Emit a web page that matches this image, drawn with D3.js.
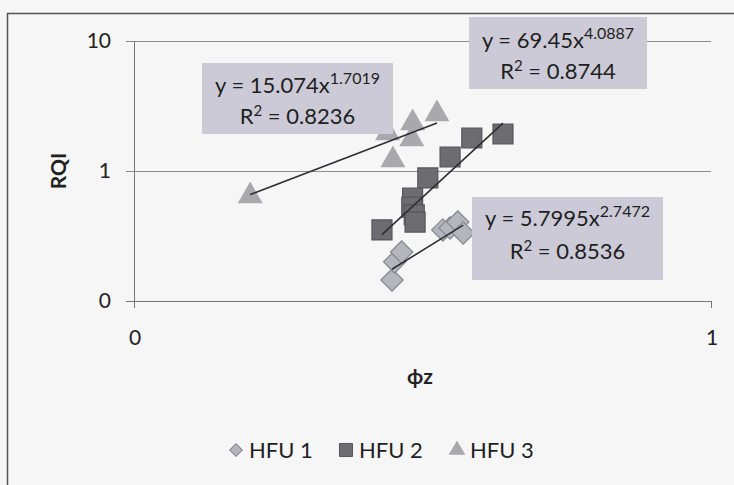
<!DOCTYPE html>
<html>
<head>
<meta charset="utf-8">
<script src="https://cdn.jsdelivr.net/npm/d3@7"></script>
<style>
  body { margin: 0; background: #f6f6f7; }
  svg { display: block; font-family: Lato, "Open Sans", sans-serif; }
</style>
</head>
<body>
<div id="chart"></div>
<script>
// series names
var seriesNames = ["HFU 1", "HFU 2", "HFU 3"];

// phi z (x) and RQI (y) values
var hfu1X = [0.280, 0.283, 0.291, 0.343, 0.353, 0.364, 0.372];
var hfu1Y = [0.145, 0.200, 0.238, 0.352, 0.364, 0.405, 0.334];

var hfu2X = [0.269, 0.304, 0.303, 0.306, 0.307, 0.323, 0.353, 0.385, 0.436];
var hfu2Y = [0.352, 0.620, 0.528, 0.459, 0.405, 0.884, 1.281, 1.794, 1.926];

var hfu3X = [0.159, 0.275, 0.281, 0.303, 0.304, 0.335];
var hfu3Y = [0.642, 1.960, 1.215, 1.762, 2.340, 2.745];

// power trendlines y = a * x^b
var trendA = [5.7995, 69.45, 15.074];
var trendB = [2.7472, 4.0887, 1.7019];
var trendR2 = ["0.8536", "0.8744", "0.8236"];

// axis ticks
var xTicks = [0.1, 1];
var xTickLabels = ["0", "1"];
var yTicks = [0.1, 1, 10];
var yTickLabels = ["0", "1", "10"];

var width = 734, height = 485;

var svg = d3.select("#chart").append("svg")
    .attr("width", width)
    .attr("height", height);

var x = d3.scaleLog().domain([0.1, 1]).range([134, 711]);
var y = d3.scaleLog().domain([0.1, 10]).range([301, 41]);

// page frame (left and top border of the figure)
svg.append("line").attr("x1", 7.5).attr("x2", 7.5).attr("y1", 13).attr("y2", height)
    .attr("stroke", "#555").attr("stroke-width", 1.5);
svg.append("line").attr("x1", 7).attr("x2", width).attr("y1", 13.5).attr("y2", 13.5)
    .attr("stroke", "#555").attr("stroke-width", 1.5);

// gridlines at 1 and 10
svg.selectAll(".grid")
    .data([1, 10])
    .enter().append("line")
    .attr("x1", 126).attr("x2", 711)
    .attr("y1", function (d) { return Math.round(y(d)) + 0.5; })
    .attr("y2", function (d) { return Math.round(y(d)) + 0.5; })
    .attr("stroke", "#8c8c8c");

// axes lines
svg.append("line").attr("x1", 134.5).attr("x2", 134.5).attr("y1", y(10)).attr("y2", 308)
    .attr("stroke", "#777");
svg.append("line").attr("x1", 126).attr("x2", 711).attr("y1", 301.5).attr("y2", 301.5)
    .attr("stroke", "#777");
svg.append("line").attr("x1", 711.5).attr("x2", 711.5).attr("y1", 301).attr("y2", 308)
    .attr("stroke", "#777");

// y tick labels
svg.selectAll(".ylab")
    .data(yTicks)
    .enter().append("text")
    .attr("x", 111)
    .attr("y", function (d) { return y(d) + 7; })
    .attr("text-anchor", "end")
    .style("font-size", "21px")
    .attr("fill", "#222")
    .text(function (d, i) { return yTickLabels[i]; });

// x tick labels
svg.selectAll(".xlab")
    .data(xTicks)
    .enter().append("text")
    .attr("x", function (d) { return x(d) + 1; })
    .attr("y", 345)
    .attr("text-anchor", "middle")
    .style("font-size", "21px")
    .attr("fill", "#222")
    .text(function (d, i) { return xTickLabels[i]; });

// axis titles
svg.append("text")
    .attr("transform", "translate(66,171) rotate(-90)")
    .attr("text-anchor", "middle")
    .style("font-size", "21px").style("font-weight", "bold")
    .attr("fill", "#222")
    .text("RQI");
svg.append("text")
    .attr("x", 420).attr("y", 384)
    .attr("text-anchor", "middle")
    .style("font-size", "21px").style("font-weight", "bold")
    .attr("fill", "#222")
    .text("ϕz");

// markers
var fills = ["#b5b5bd", "#6c6c71", "#a9a9ad"];
var strokes = ["#86868e", "#56565b", "none"];
var shapes = [
  d3.symbol().type(d3.symbolSquare).size(250),
  d3.symbol().type(d3.symbolSquare).size(400),
  d3.symbol().type(d3.symbolTriangle).size(270)
];
var rotations = [45, 0, 0];

var seriesData = [
  hfu1X.map(function (v, i) { return [v, hfu1Y[i]]; }),
  hfu2X.map(function (v, i) { return [v, hfu2Y[i]]; }),
  hfu3X.map(function (v, i) { return [v, hfu3Y[i]]; })
];

seriesData.forEach(function (pts, s) {
  svg.selectAll(".pt" + s)
      .data(pts)
      .enter().append("path")
      .attr("d", shapes[s])
      .attr("transform", function (d) {
        return "translate(" + x(d[0]) + "," + y(d[1]) + ") rotate(" + rotations[s] + ")";
      })
      .attr("fill", fills[s])
      .attr("stroke", strokes[s])
      .attr("stroke-width", 1.2);
});

// trendlines over the x range of each series
seriesData.forEach(function (pts, s) {
  var ext = d3.extent(pts, function (d) { return d[0]; });
  var f = function (v) { return trendA[s] * Math.pow(v, trendB[s]); };
  svg.append("line")
      .attr("x1", x(ext[0])).attr("y1", y(f(ext[0])))
      .attr("x2", x(ext[1])).attr("y2", y(f(ext[1])))
      .attr("stroke", "#2f2f33")
      .attr("stroke-width", 1.6);
});

// equation labels (box and the two text baselines)
var boxes = [
  { x: 472, y: 197, w: 191, h: 83, b1: 226, b2: 259 },
  { x: 469, y: 17, w: 178, h: 72, b1: 48, b2: 79 },
  { x: 202, y: 63, w: 191, h: 71, b1: 93, b2: 124 }
];
boxes.forEach(function (b, s) {
  var g = svg.append("g");
  g.append("rect")
      .attr("x", b.x).attr("y", b.y).attr("width", b.w).attr("height", b.h)
      .attr("fill", "#cbcad6");
  var cx = b.x + b.w / 2;
  var t1 = g.append("text")
      .attr("x", cx).attr("y", b.b1)
      .attr("text-anchor", "middle")
      .style("font-size", "22px")
      .attr("fill", "#1e1e22");
  t1.append("tspan").text("y = " + trendA[s] + "x");
  t1.append("tspan").attr("dy", -9).style("font-size", "16px").text(trendB[s]);
  var t2 = g.append("text")
      .attr("x", cx).attr("y", b.b2)
      .attr("text-anchor", "middle")
      .style("font-size", "22px")
      .attr("fill", "#1e1e22");
  t2.append("tspan").text("R");
  t2.append("tspan").attr("dy", -8).style("font-size", "15px").text("2");
  t2.append("tspan").attr("dy", 8).text(" = " + trendR2[s]);
});

// legend
var legendX = [236, 346, 457];
var legendShapes = [
  d3.symbol().type(d3.symbolSquare).size(80),
  d3.symbol().type(d3.symbolSquare).size(170),
  d3.symbol().type(d3.symbolTriangle).size(120)
];
seriesNames.forEach(function (name, s) {
  svg.append("path")
      .attr("d", legendShapes[s])
      .attr("transform", "translate(" + legendX[s] + ",450) rotate(" + rotations[s] + ")")
      .attr("fill", fills[s])
      .attr("stroke", strokes[s]);
  svg.append("text")
      .attr("x", legendX[s] + 13).attr("y", 458)
      .style("font-size", "22px")
      .attr("fill", "#1e1e22")
      .text(name);
});
</script>
</body>
</html>
